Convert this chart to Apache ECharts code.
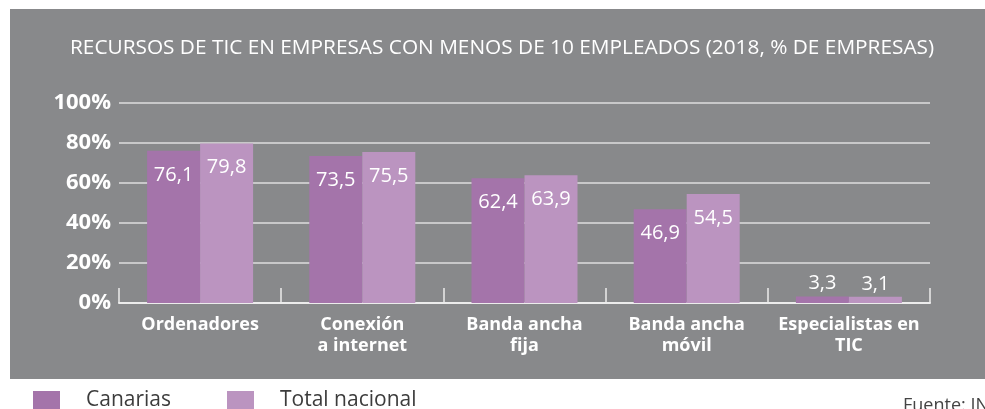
<!DOCTYPE html>
<html>
<head>
<meta charset="utf-8">
<script src="https://cdn.jsdelivr.net/npm/echarts@6/dist/echarts.min.js"></script>
<style>
  html, body { margin: 0; padding: 0; background: #fff; }
  #main { width: 985px; height: 409px; }
</style>
</head>
<body>
<div id="main"></div>
<script>
// categorías y valores (% de empresas)
var categorias = ['Ordenadores', 'Conexión\na internet', 'Banda ancha\nfija', 'Banda ancha\nmóvil', 'Especialistas en\nTIC'];
var canarias = [76.1, 73.5, 62.4, 46.9, 3.3];
var totalNacional = [79.8, 75.5, 63.9, 54.5, 3.1];
var yTicks = [0, 20, 40, 60, 80, 100];

var fontFam = '"Open Sans", "Noto Sans", sans-serif';

// barras pequeñas llevan la etiqueta encima
function buildData(values) {
  return values.map(function (v) {
    if (v < 10) {
      return { value: v, label: { position: 'top', distance: 3 } };
    }
    return v;
  });
}

var myChart = echarts.init(document.getElementById('main'));

var option = {
  animation: false,
  textStyle: { fontFamily: fontFam },
  graphic: [
    {
      type: 'rect',
      left: 10, top: 9,
      shape: { width: 975, height: 370 },
      style: { fill: '#88898b' },
      z: -10
    },
    {
      type: 'text',
      left: 70, top: 38,
      style: {
        text: 'RECURSOS DE TIC EN EMPRESAS CON MENOS DE 10 EMPLEADOS (2018, % DE EMPRESAS)',
        fill: '#ffffff',
        font: '20.8px ' + fontFam
      }
    },
    {
      type: 'text',
      left: 903, top: 397,
      style: {
        text: 'Fuente: INE',
        fill: '#444444',
        font: '18px ' + fontFam
      }
    }
  ],
  legend: {
    left: 33,
    top: 390,
    padding: 0,
    itemWidth: 27,
    itemHeight: 19,
    itemGap: 56,
    icon: 'rect',
    textStyle: {
      color: '#3c3c3c',
      fontSize: 21,
      fontFamily: fontFam,
      padding: [0, 0, 0, 21]
    },
    data: ['Canarias', 'Total nacional']
  },
  grid: {
    left: 119,
    right: 55,
    top: 103,
    bottom: 106,
    containLabel: false
  },
  xAxis: {
    type: 'category',
    data: categorias,
    axisLine: { lineStyle: { color: '#ececec', width: 2 } },
    axisTick: { show: true, inside: true, length: 15, lineStyle: { color: '#ececec', width: 1.5 } },
    axisLabel: {
      color: '#ffffff',
      fontSize: 18,
      fontWeight: 'bold',
      lineHeight: 21,
      margin: 11,
      interval: 0
    }
  },
  yAxis: {
    type: 'value',
    min: yTicks[0],
    max: yTicks[yTicks.length - 1],
    interval: 20,
    axisLine: { show: false },
    axisTick: { show: false },
    splitLine: { lineStyle: { color: '#dedede', width: 1.5 } },
    axisLabel: {
      color: '#ffffff',
      fontSize: 22,
      fontWeight: 'bold',
      margin: 8,
      formatter: '{value}%'
    }
  },
  series: [
    {
      name: 'Canarias',
      type: 'bar',
      barWidth: 53,
      barGap: '0%',
      itemStyle: { color: '#a474aa' },
      label: {
        show: true,
        position: 'insideTop',
        distance: 14,
        color: '#ffffff',
        fontSize: 20,
        formatter: function (p) { return String(p.value).replace('.', ','); }
      },
      data: buildData(canarias)
    },
    {
      name: 'Total nacional',
      type: 'bar',
      barWidth: 53,
      itemStyle: { color: '#bb94c0' },
      label: {
        show: true,
        position: 'insideTop',
        distance: 14,
        color: '#ffffff',
        fontSize: 20,
        formatter: function (p) { return String(p.value).replace('.', ','); }
      },
      data: buildData(totalNacional)
    }
  ]
};

myChart.setOption(option);

window.addEventListener('resize', function () {
  myChart.resize();
});
</script>
</body>
</html>
